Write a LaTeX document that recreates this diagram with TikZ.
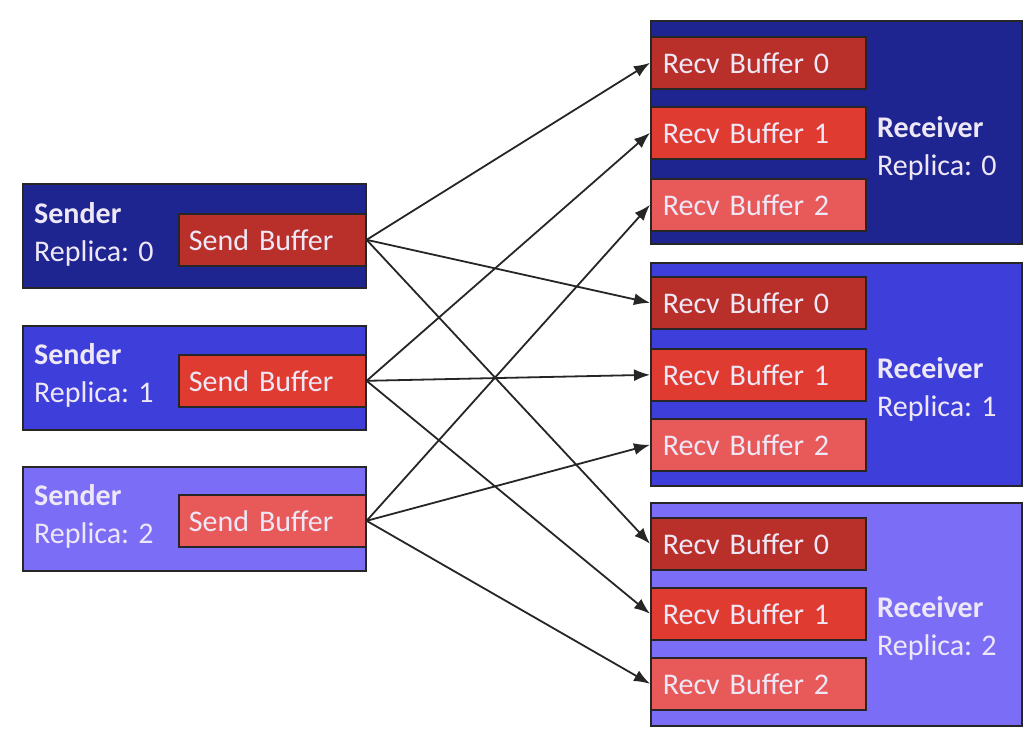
\documentclass[tikz,border=0pt]{standalone}
\usepackage{fontspec}
\setmainfont{Carlito}
\usetikzlibrary{arrows.meta}
\definecolor{navy}{HTML}{1F2590}
\definecolor{midblue}{HTML}{3E3EDB}
\definecolor{lilac}{HTML}{7C6DF6}
\definecolor{bufA}{HTML}{B9302A}
\definecolor{bufB}{HTML}{E03B31}
\definecolor{bufC}{HTML}{E85A5A}
\definecolor{labeltext}{HTML}{EEE8F6}
\begin{document}
\begin{tikzpicture}[x=1pt,y=-1pt,
  font=\fontsize{30}{36}\selectfont,
  outer/.style={draw=black!85, line width=1.6pt, anchor=north west, inner sep=0pt},
  sendbox/.style={outer, minimum width=343pt, minimum height=104pt},
  recvbox/.style={outer, minimum width=371pt, minimum height=223pt},
  sbuf/.style={outer, minimum height=52pt, text width=167pt, inner xsep=10pt, align=left, text=labeltext},
  rbuf/.style={outer, minimum height=52pt, text width=191pt, inner xsep=12pt, align=left, text=labeltext},
  lbl/.style={anchor=west, align=left, text=labeltext, inner sep=0pt, font=\fontsize{30}{38}\selectfont},
  arr/.style={draw=black!85, line width=1.8pt, -{Latex[length=16pt,width=12pt]}}
]
\fill[white] (0,0) rectangle (1024,732);
\useasboundingbox (0,0) rectangle (1024,732);

% senders
\node[sendbox, fill=navy]    (snd0) at (22,183) {};
\node[sendbox, fill=midblue] (snd1) at (22,325) {};
\node[sendbox, fill=lilac]   (snd2) at (22,466) {};
\node[sbuf, fill=bufA] (sb0) at (178,213) {Send Buffer};
\node[sbuf, fill=bufB] (sb1) at (178,354) {Send Buffer};
\node[sbuf, fill=bufC] (sb2) at (178,494) {Send Buffer};
\node[lbl] (sl0) at (34,234) {\textbf{Sender}\\Replica: 0};
\node[lbl] (sl1) at (34,375) {\textbf{Sender}\\Replica: 1};
\node[lbl] (sl2) at (34,516) {\textbf{Sender}\\Replica: 2};

% receivers
\node[recvbox, fill=navy]    (rcv0) at (650,20) {};
\node[recvbox, fill=midblue] (rcv1) at (650,262) {};
\node[recvbox, fill=lilac]   (rcv2) at (650,502) {};
\node[lbl] (rl0) at (877,148) {\textbf{Receiver}\\Replica: 0};
\node[lbl] (rl1) at (877,389) {\textbf{Receiver}\\Replica: 1};
\node[lbl] (rl2) at (877,628) {\textbf{Receiver}\\Replica: 2};

\node[rbuf, fill=bufA] (r00) at (650,36)  {Recv Buffer 0};
\node[rbuf, fill=bufB] (r01) at (650,106) {Recv Buffer 1};
\node[rbuf, fill=bufC] (r02) at (650,178) {Recv Buffer 2};
\node[rbuf, fill=bufA] (r10) at (650,276) {Recv Buffer 0};
\node[rbuf, fill=bufB] (r11) at (650,348) {Recv Buffer 1};
\node[rbuf, fill=bufC] (r12) at (650,418) {Recv Buffer 2};
\node[rbuf, fill=bufA] (r20) at (650,517) {Recv Buffer 0};
\node[rbuf, fill=bufB] (r21) at (650,587) {Recv Buffer 1};
\node[rbuf, fill=bufC] (r22) at (650,657) {Recv Buffer 2};

% connections: sender i feeds buffer i of every receiver
\foreach \i in {0,1,2}{
  \foreach \j in {0,1,2}{
    \draw[arr] (sb\i.east) -- (r\j\i.west);
  }
}
\end{tikzpicture}
\end{document}
